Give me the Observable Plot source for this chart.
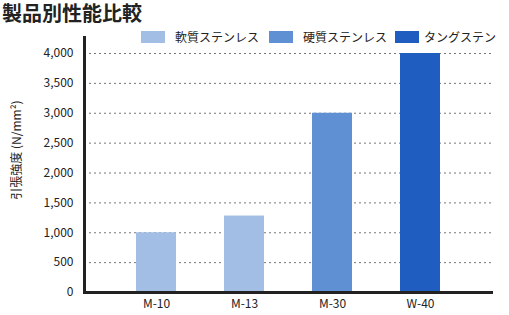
<!DOCTYPE html>
<html>
<head>
<meta charset="utf-8">
<script src="https://cdn.jsdelivr.net/npm/d3@7"></script>
<script src="https://cdn.jsdelivr.net/npm/@observablehq/plot@0.6"></script>
<style>
  html, body { margin: 0; padding: 0; background: #fff; }
  #wrap { position: relative; width: 509px; height: 315px; font-family: "Noto Sans CJK JP", "Noto Sans", sans-serif; color: #222; }
  #title { position: absolute; left: 2px; top: 3px; font-size: 20px; font-weight: bold; line-height: 20px; white-space: nowrap; }
  .sw { position: absolute; top: 31px; width: 24px; height: 12px; }
  .lt { position: absolute; top: 28px; font-size: 12px; line-height: 18px; white-space: nowrap; }
  #chart { position: absolute; left: 0; top: 0; }
</style>
</head>
<body>
<div id="wrap">
  <div id="chart"></div>
  <div id="title"></div>
  <div id="legend"></div>
</div>
<script>
const title = "製品別性能比較";
const yLabel = "引張強度 (N/mm²)";
const products = ["M-10", "M-13", "M-30", "W-40"];
const values = [1000, 1280, 3000, 4000];
const types = ["軟質ステンレス", "軟質ステンレス", "硬質ステンレス", "タングステン"];
const legendTypes = ["軟質ステンレス", "硬質ステンレス", "タングステン"];
const legendColors = ["#a3bee4", "#6090d4", "#1f5dc0"];
const yTicks = [0, 500, 1000, 1500, 2000, 2500, 3000, 3500, 4000];

const data = products.map((p, i) => ({product: p, value: values[i], type: types[i]}));

document.getElementById("title").textContent = title;

const swLeft = [141, 269, 395];
const txLeft = [175, 303, 424];
const legend = document.getElementById("legend");
legendTypes.forEach((t, i) => {
  const s = document.createElement("div");
  s.className = "sw"; s.style.left = swLeft[i] + "px"; s.style.background = legendColors[i];
  legend.appendChild(s);
  const l = document.createElement("div");
  l.className = "lt"; l.style.left = txLeft[i] + "px"; l.textContent = t;
  legend.appendChild(l);
});

const chart = Plot.plot({
  width: 509,
  height: 315,
  marginTop: 37,
  marginBottom: 23,
  marginLeft: 84,
  marginRight: 18,
  style: {fontFamily: "'Noto Sans CJK JP', 'Noto Sans', sans-serif", fontSize: "12px", color: "#222", background: "transparent"},
  x: {domain: products, paddingInner: 0.55, paddingOuter: 0.57},
  y: {domain: [0, 4268]},
  color: {domain: legendTypes, range: legendColors},
  marks: [
    Plot.ruleY(yTicks.filter(d => d > 0), {stroke: "#777", strokeWidth: 1, strokeDasharray: "2,3"}),
    Plot.barY(data, {x: "product", y: "value", fill: "type"}),
    Plot.axisY(yTicks, {tickSize: 0, tickPadding: 11, tickFormat: d3.format(","), fontSize: 12, label: null}),
    Plot.axisX({tickSize: 0, tickPadding: 7, fontSize: 12, label: null}),
    Plot.frame({anchor: "left", stroke: "#222", strokeWidth: 3}),
    Plot.frame({anchor: "bottom", stroke: "#222", strokeWidth: 3}),
    Plot.text([yLabel], {frameAnchor: "left", textAnchor: "middle", dx: -67, dy: -15, rotate: -90, fontSize: 12, fill: "#222"})
  ]
});
document.getElementById("chart").appendChild(chart);
</script>
</body>
</html>
